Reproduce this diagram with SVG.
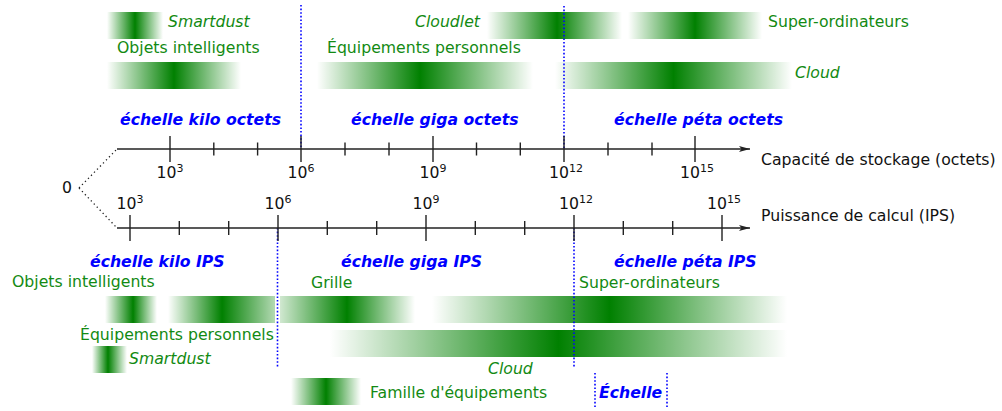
<svg xmlns="http://www.w3.org/2000/svg" width="1002" height="411" viewBox="0 0 1002 411">
<style>
text{font-family:"DejaVu Sans","Liberation Sans",sans-serif;font-size:15.7px}
.g{fill:#138a13}
.it{font-style:italic}
.b{fill:#0000ff;font-weight:bold;font-style:italic}
.k{fill:#111}
.sup{font-size:11px}
.axis{stroke:#222;stroke-width:1.4;fill:none}
.tick{stroke:#222;stroke-width:1.4}
.dot{stroke:#0000ff;stroke-width:1.6;stroke-dasharray:1.6 2;fill:none}
.zero{stroke:#222;stroke-width:1.3;stroke-dasharray:1.3 3;fill:none}
</style>
<defs>
<linearGradient id="sym" x1="0" y1="0" x2="1" y2="0">
<stop offset="0" stop-color="#008000" stop-opacity="0"/>
<stop offset="0.5" stop-color="#008000"/>
<stop offset="1" stop-color="#008000" stop-opacity="0"/>
</linearGradient>
<linearGradient id="gEquip" x1="0" y1="0" x2="1" y2="0">
<stop offset="0" stop-color="#008000" stop-opacity="0"/>
<stop offset="0.477" stop-color="#008000"/>
<stop offset="1" stop-color="#008000" stop-opacity="0"/>
</linearGradient>
<linearGradient id="gCloudlet" x1="0" y1="0" x2="1" y2="0">
<stop offset="0" stop-color="#008000" stop-opacity="0"/>
<stop offset="0.519" stop-color="#008000"/>
<stop offset="1" stop-color="#008000" stop-opacity="0"/>
</linearGradient>
<linearGradient id="gA" x1="0" y1="0" x2="1" y2="0">
<stop offset="0" stop-color="#008000" stop-opacity="0"/>
<stop offset="0.54" stop-color="#008000"/>
<stop offset="1" stop-color="#008000" stop-opacity="0"/>
</linearGradient>
<linearGradient id="gB" x1="0" y1="0" x2="1" y2="0">
<stop offset="0" stop-color="#008000" stop-opacity="0"/>
<stop offset="0.505" stop-color="#008000"/>
<stop offset="1" stop-color="#008000" stop-opacity="0.3"/>
</linearGradient>
<linearGradient id="gC" x1="0" y1="0" x2="1" y2="0">
<stop offset="0" stop-color="#008000" stop-opacity="0.18"/>
<stop offset="0.496" stop-color="#008000"/>
<stop offset="1" stop-color="#008000" stop-opacity="0"/>
</linearGradient>
<linearGradient id="gSm2" x1="0" y1="0" x2="1" y2="0">
<stop offset="0" stop-color="#008000" stop-opacity="0"/>
<stop offset="0.457" stop-color="#008000"/>
<stop offset="1" stop-color="#008000" stop-opacity="0"/>
</linearGradient>
<marker id="arr" viewBox="0 0 12 8" refX="11" refY="4" markerWidth="12" markerHeight="8" markerUnits="userSpaceOnUse" orient="auto">
<path d="M0,1 L11,4 L0,7 L2.5,4 Z" fill="#222"/>
</marker>
</defs>

<!-- Top bars (storage) -->
<g id="top-smartdust"><rect x="107" y="12" width="56" height="27" fill="url(#sym)"/><text class="g it" x="168" y="27">Smartdust</text></g>
<g id="top-cloudlet"><rect x="487" y="12" width="135" height="27" fill="url(#gCloudlet)"/><text class="g it" x="480" y="27" text-anchor="end">Cloudlet</text></g>
<g id="top-super"><rect x="628" y="12" width="134" height="27" fill="url(#sym)"/><text class="g" x="768" y="27">Super-ordinateurs</text></g>
<g id="top-objets"><rect x="107" y="62" width="134" height="27" fill="url(#sym)"/><text class="g" x="117" y="53">Objets intelligents</text></g>
<g id="top-equip"><rect x="317" y="62" width="216" height="27" fill="url(#gEquip)"/><text class="g" x="327" y="53">Équipements personnels</text></g>
<g id="top-cloud"><rect x="555" y="62" width="237" height="27" fill="url(#sym)"/><text class="g it" x="795" y="78">Cloud</text></g>

<!-- Scale labels top -->
<g id="scale-top">
<text class="b" x="120" y="125">échelle kilo octets</text>
<text class="b" x="351" y="125">échelle giga octets</text>
<text class="b" x="614" y="125">échelle péta octets</text>
</g>

<!-- Bottom bars (compute) -->
<g id="bot-objets"><rect x="105" y="296" width="52" height="27" fill="url(#gA)"/><rect x="168" y="296" width="107" height="27" fill="url(#gB)"/><text class="g" x="12" y="287">Objets intelligents</text></g>
<g id="bot-grille"><rect x="280" y="296" width="135" height="27" fill="url(#gC)"/><text class="g" x="311" y="288">Grille</text></g>
<g id="bot-super"><rect x="432" y="296" width="355" height="27" fill="url(#sym)"/><text class="g" x="579" y="288">Super-ordinateurs</text></g>
<g id="bot-cloud"><rect x="330" y="330" width="457" height="27" fill="url(#sym)"/><text class="g it" x="488" y="374">Cloud</text></g>
<g id="bot-equip"><text class="g" x="80" y="340">Équipements personnels</text></g>
<g id="bot-smartdust"><rect x="92" y="346" width="35" height="27" fill="url(#gSm2)"/><text class="g it" x="129" y="364">Smartdust</text></g>

<g id="scale-bottom">
<text class="b" x="90" y="267">échelle kilo IPS</text>
<text class="b" x="341" y="267">échelle giga IPS</text>
<text class="b" x="614" y="267">échelle péta IPS</text>
</g>

<!-- Legend -->
<g id="legend-famille"><rect x="291" y="378" width="70" height="27" fill="url(#sym)"/><text class="g" x="370" y="398">Famille d'équipements</text></g>
<g id="legend-echelle"><line class="dot" x1="595" y1="373" x2="595" y2="408"/><line class="dot" x1="667" y1="373" x2="667" y2="408"/><text class="b" x="599" y="398">Échelle</text></g>

<!-- Connectors: axes, ticks, dotted separators -->
<g id="connectors">
<line class="dot" x1="301" y1="5" x2="301" y2="149"/>
<line class="dot" x1="564" y1="6" x2="564" y2="149"/>
<line class="dot" x1="277.5" y1="228" x2="277.5" y2="368"/>
<line class="dot" x1="574" y1="228" x2="574" y2="368"/>
<path class="zero" d="M79,188 L117,149 M79,188 L117,228"/>
<line class="axis" x1="117" y1="149" x2="750" y2="149" marker-end="url(#arr)"/>
<line class="axis" x1="117" y1="228" x2="750" y2="228" marker-end="url(#arr)"/>
<path class="tick" d="M170,136V162 M301,136V162 M433,136V162 M564,136V162 M695,136V162 M213.8,142.5V155.5 M257.6,142.5V155.5 M345,142.5V155.5 M389,142.5V155.5 M476.5,142.5V155.5 M520.3,142.5V155.5 M608,142.5V155.5 M652,142.5V155.5"/>
<path class="tick" d="M130,215V241 M278,215V241 M426,215V241 M574,215V241 M722,215V241 M179.3,221V235 M228.7,221V235 M327.3,221V235 M376.7,221V235 M475.3,221V235 M524.7,221V235 M623.3,221V235 M672.7,221V235"/>
</g>

<g id="axis-labels">
<text class="k" x="62" y="193">0</text>
<text class="k" x="761" y="165">Capacité de stockage (octets)</text>
<text class="k" x="761" y="221">Puissance de calcul (IPS)</text>
<text class="k" x="170" y="178" text-anchor="middle">10<tspan class="sup" dy="-6">3</tspan></text>
<text class="k" x="301" y="178" text-anchor="middle">10<tspan class="sup" dy="-6">6</tspan></text>
<text class="k" x="433" y="178" text-anchor="middle">10<tspan class="sup" dy="-6">9</tspan></text>
<text class="k" x="566" y="178" text-anchor="middle">10<tspan class="sup" dy="-6">12</tspan></text>
<text class="k" x="697" y="178" text-anchor="middle">10<tspan class="sup" dy="-6">15</tspan></text>
<text class="k" x="130" y="209" text-anchor="middle">10<tspan class="sup" dy="-6">3</tspan></text>
<text class="k" x="278" y="209" text-anchor="middle">10<tspan class="sup" dy="-6">6</tspan></text>
<text class="k" x="426" y="209" text-anchor="middle">10<tspan class="sup" dy="-6">9</tspan></text>
<text class="k" x="576" y="209" text-anchor="middle">10<tspan class="sup" dy="-6">12</tspan></text>
<text class="k" x="724" y="209" text-anchor="middle">10<tspan class="sup" dy="-6">15</tspan></text>
</g>
</svg>
